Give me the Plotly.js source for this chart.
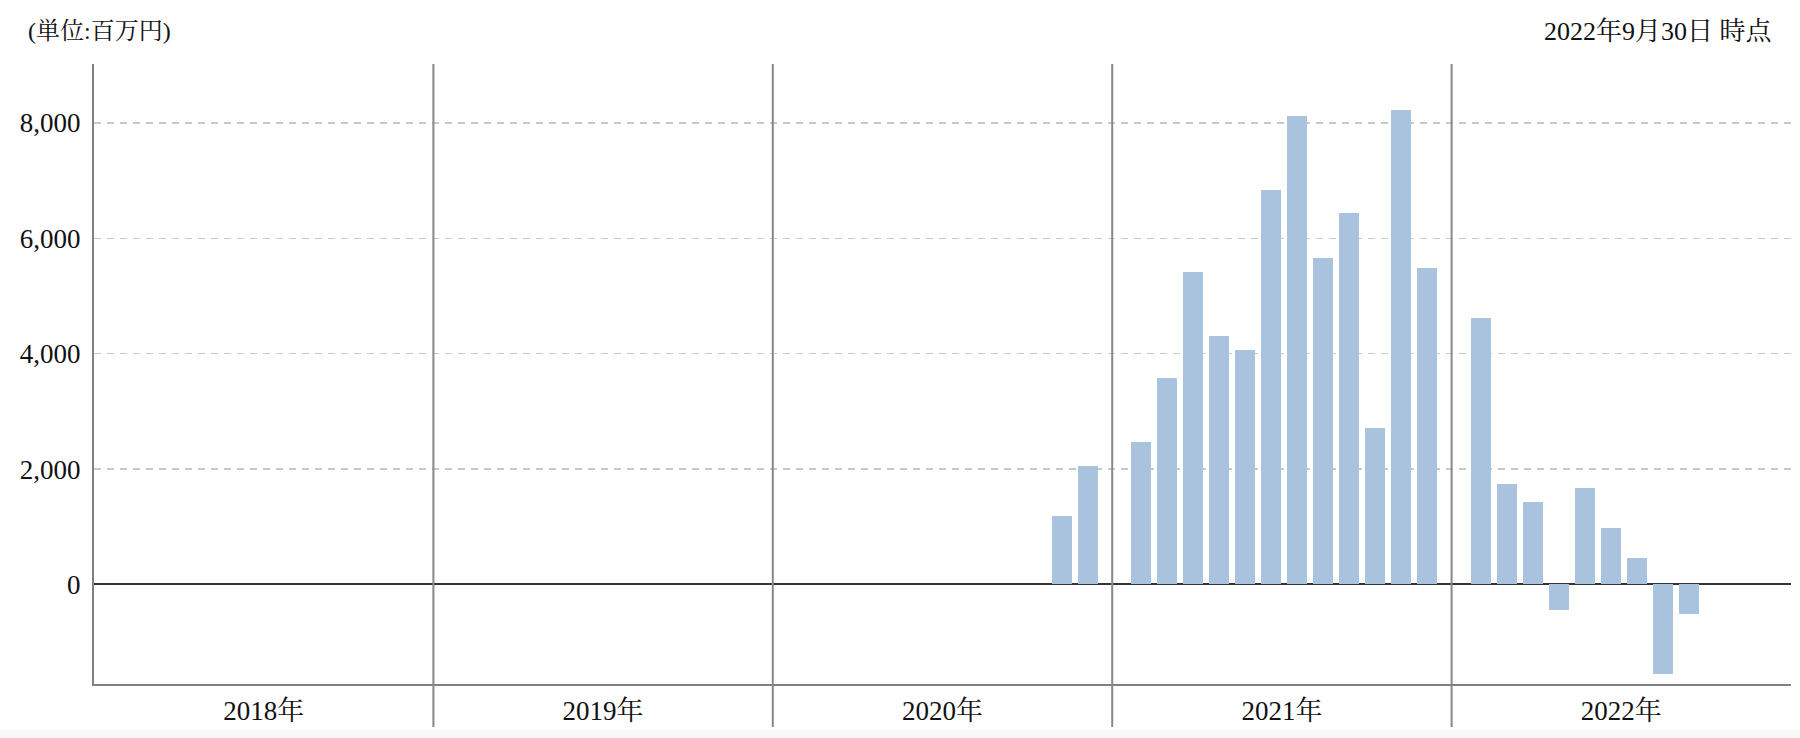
<!DOCTYPE html>
<html>
<head>
<meta charset="utf-8">
<script src="https://cdn.plot.ly/plotly-3.0.1.min.js"></script>
<style>
  html, body { margin: 0; padding: 0; background: #ffffff; }
  #chart { width: 1800px; height: 738px; }
</style>
</head>
<body>
<div id="chart"></div>
<script>
// ---- data ----
const years = ['2018', '2019', '2020', '2021', '2022'];
const yearLabels = ['2018年', '2019年', '2020年', '2021年', '2022年'];
const months = [
  '2020-11', '2020-12',
  '2021-01', '2021-02', '2021-03', '2021-04', '2021-05', '2021-06',
  '2021-07', '2021-08', '2021-09', '2021-10', '2021-11', '2021-12',
  '2022-01', '2022-02', '2022-03', '2022-04', '2022-05', '2022-06',
  '2022-07', '2022-08', '2022-09'
];
const values = [
  1190, 2060,
  2470, 3580, 5420, 4310, 4070, 6840, 8120, 5660, 6430, 2720, 8230, 5490,
  4620, 1740, 1430, -440, 1670, 980, 460, -1550, -510
];
const yTicks = [0, 2000, 4000, 6000, 8000];
const unitText = '(単位:百万円)';
const dateText = '2022年9月30日 時点';

// ---- layout helpers (slot geometry, in month units) ----
const YEAR_W = 13.056;   // width of one year block, in month slots
const FIRST = 1.115;     // centre of January inside its year block
const BAR_W = 0.77;

const xs = months.map(function (s) {
  const parts = s.split('-');
  const yi = years.indexOf(parts[0]);
  const m = parseInt(parts[1], 10) - 1;
  return yi * YEAR_W + FIRST + m;
});
const yearCenters = years.map(function (y, i) { return (i + 0.5) * YEAR_W; });

const FONT = "'Liberation Serif', 'Noto Serif CJK JP', 'Noto Sans CJK JP', serif";

const trace = {
  type: 'bar',
  x: xs,
  y: values,
  width: BAR_W,
  marker: { color: '#a9c2dd', line: { width: 0 } },
  hoverinfo: 'y'
};

const shapes = [];
for (let i = 1; i < years.length; i++) {
  shapes.push({
    type: 'line', xref: 'paper', yref: 'paper',
    x0: i / years.length, x1: i / years.length,
    y0: -0.0694, y1: 1,
    line: { color: '#888888', width: 2 }
  });
}
shapes.push({
  type: 'rect', xref: 'paper', yref: 'paper', layer: 'below',
  x0: -0.1, x1: 1.1, y0: -0.09, y1: -0.074,
  fillcolor: '#f8f8f8', line: { width: 0 }
});

const layout = {
  width: 1800,
  height: 738,
  margin: { l: 94, r: 9, t: 64, b: 54 },
  paper_bgcolor: '#ffffff',
  plot_bgcolor: '#ffffff',
  showlegend: false,
  bargap: 0,
  font: { family: FONT, size: 27, color: '#111111' },
  xaxis: {
    range: [0, years.length * YEAR_W],
    tickmode: 'array',
    tickvals: yearCenters,
    ticktext: yearLabels,
    showgrid: false,
    zeroline: false,
    showline: true,
    linecolor: '#808080',
    linewidth: 2,
    ticks: '',
    ticklabelstandoff: 2,
    tickfont: { family: FONT, size: 27, color: '#111111' },
    fixedrange: true
  },
  yaxis: {
    range: [-1725, 9020],
    tickmode: 'array',
    tickvals: yTicks,
    tickformat: ',d',
    showgrid: true,
    gridcolor: '#c8c8c8',
    gridwidth: 1.5,
    griddash: '7px,6px',
    zeroline: true,
    zerolinecolor: '#333333',
    zerolinewidth: 2,
    showline: true,
    linecolor: '#808080',
    linewidth: 2,
    ticks: '',
    ticklabelstandoff: 6,
    tickfont: { family: FONT, size: 27, color: '#111111' },
    fixedrange: true
  },
  shapes: shapes,
  annotations: [
    {
      text: unitText, xref: 'paper', yref: 'paper',
      x: -68 / 1697, y: 1 + 33 / 620,
      xanchor: 'left', yanchor: 'middle', showarrow: false,
      font: { family: FONT, size: 24, color: '#111111' }
    },
    {
      text: dateText, xref: 'paper', yref: 'paper',
      x: (1775 - 94) / 1697, y: 1 + 33 / 620,
      xanchor: 'right', yanchor: 'middle', showarrow: false,
      font: { family: FONT, size: 26, color: '#111111' }
    }
  ]
};

Plotly.newPlot('chart', [trace], layout, { displayModeBar: false, staticPlot: true });
</script>
</body>
</html>
